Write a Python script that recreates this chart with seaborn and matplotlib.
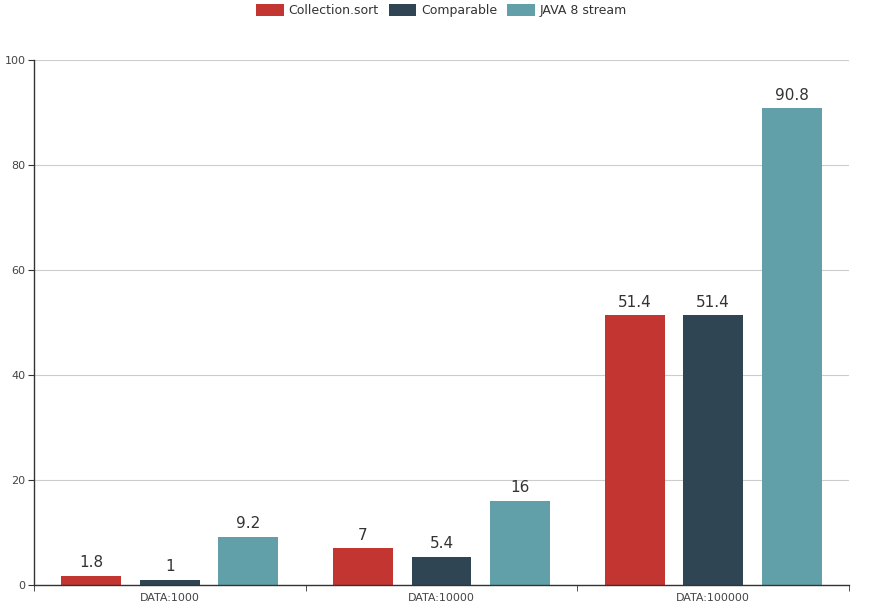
import matplotlib
matplotlib.use("Agg")
import matplotlib.pyplot as plt
from matplotlib.patches import Patch
from matplotlib.ticker import FixedLocator
import pandas as pd
import seaborn as sns

categories = ["DATA:1000", "DATA:10000", "DATA:100000"]
series = ["Collection.sort", "Comparable", "JAVA 8 stream"]
collection_sort = [1.8, 7, 51.4]
comparable = [1, 5.4, 51.4]
java8_stream = [9.2, 16, 90.8]
colors = ["#c23531", "#2f4554", "#61a0a8"]

rows = []
for name, vals in zip(series, [collection_sort, comparable, java8_stream]):
    for cat, v in zip(categories, vals):
        rows.append({"category": cat, "series": name, "value": v})
df = pd.DataFrame(rows)

sns.set_style("white")
plt.rcParams["font.family"] = ["DejaVu Sans"]

fig = plt.figure(figsize=(8.83, 6.16), dpi=100)
ax = fig.add_axes([34 / 883, 1 - 585 / 616, 815 / 883, 525 / 616])

sns.barplot(data=df, x="category", y="value", hue="series", palette=colors,
            width=0.867, gap=0.236, ax=ax, legend=False, saturation=1,
            edgecolor="none")

ax.set_ylim(0, 100)
ax.set_xlim(-0.5, 2.5)
ax.set_yticks([0, 20, 40, 60, 80, 100])
ax.yaxis.grid(True, color="#cccccc", linewidth=0.8)
ax.set_axisbelow(True)
for s in ["top", "right"]:
    ax.spines[s].set_visible(False)
for s in ["left", "bottom"]:
    ax.spines[s].set_color("#333333")
    ax.spines[s].set_linewidth(1)
ax.set_xlabel("")
ax.set_ylabel("")
ax.tick_params(axis="y", length=4, color="#333333", labelsize=8, labelcolor="#444444", pad=2, left=True)
ax.tick_params(axis="x", length=0, labelsize=8, labelcolor="#444444", pad=6)
ax.xaxis.set_minor_locator(FixedLocator([-0.5, 0.5, 1.5, 2.5]))
ax.tick_params(axis="x", which="minor", length=4, color="#333333", bottom=True)

for cont in ax.containers:
    ax.bar_label(cont, labels=[f"{v:g}" for v in cont.datavalues],
                 padding=4, fontsize=11, color="#333333")

handles = [Patch(facecolor=c, edgecolor="none") for c in colors]
fig.legend(handles, series, loc="upper center", bbox_to_anchor=(0.5, 1.012),
           ncol=3, frameon=False, fontsize=9, handlelength=2.2, handleheight=1.1,
           columnspacing=0.8, handletextpad=0.4, labelcolor="#333333")

fig.savefig("out.png", dpi=100)
